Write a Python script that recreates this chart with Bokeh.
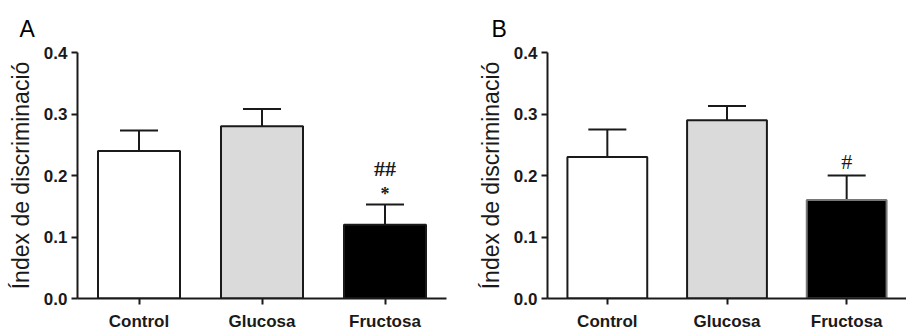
from bokeh.plotting import figure
from bokeh.models import ColumnDataSource, Whisker, FactorRange, Range1d
from bokeh.layouts import row
from bokeh.embed import file_html
from bokeh.resources import INLINE

categories = ["Control", "Glucosa", "Fructosa"]
colors = ["#ffffff", "#dadada", "#000000"]
y_ticks = [0.0, 0.1, 0.2, 0.3, 0.4]
y_label = "Índex de discriminació"

# Panel A
a_means = [0.24, 0.28, 0.12]
a_upper = [0.273, 0.308, 0.153]
a_marks = ["", "", "##"]
a_marks2 = ["", "", "*"]
a_mark_y = [0.0, 0.0, 0.211]
a_mark2_y = [0.0, 0.0, 0.170]

# Panel B
b_means = [0.23, 0.29, 0.16]
b_upper = [0.275, 0.313, 0.20]
b_marks = ["", "", "#"]
b_mark_y = [0.0, 0.0, 0.222]

FONT = "Liberation Sans"
DARK = "#1a1a1a"


def make_panel(letter, means, upper, width, left, right, outline, title_offset):
    p = figure(x_range=FactorRange(*categories, range_padding=0),
               y_range=Range1d(0, 0.4),
               width=width, height=334, output_backend="svg",
               toolbar_location=None, min_border_left=left,
               min_border_right=right, min_border_top=52,
               min_border_bottom=36)
    p.outline_line_color = None
    p.grid.visible = False
    p.background_fill_color = None
    p.border_fill_color = None
    src = ColumnDataSource(dict(x=categories, top=means, upper=upper,
                                base=means, color=colors, line=outline))
    p.vbar(x="x", top="top", width=0.667, fill_color="color",
           line_color="line", line_width=2, source=src)
    w = Whisker(base="x", upper="upper", lower="base", source=src,
                line_color=DARK, line_width=2, dimension="height")
    w.upper_head.size = 38
    w.upper_head.line_color = DARK
    w.upper_head.line_width = 2
    w.lower_head = None
    p.add_layout(w)

    p.yaxis.ticker = y_ticks
    p.yaxis.major_label_overrides = {t: f"{t:.1f}" for t in y_ticks}
    p.yaxis.axis_label = y_label
    p.yaxis.axis_label_text_font = FONT
    p.yaxis.axis_label_text_font_style = "normal"
    p.yaxis.axis_label_text_font_size = "23px"
    p.yaxis.axis_label_text_color = DARK
    p.yaxis.axis_label_standoff = 7
    for ax in (p.xaxis, p.yaxis):
        ax.axis_line_width = 2
        ax.axis_line_color = DARK
        ax.major_tick_line_width = 2
        ax.major_tick_line_color = DARK
        ax.major_tick_in = 0
        ax.major_tick_out = 6
        ax.minor_tick_line_color = None
        ax.major_label_text_font = FONT
        ax.major_label_text_font_style = "bold"
        ax.major_label_text_font_size = "17px"
        ax.major_label_text_color = DARK
    p.yaxis.major_label_standoff = 4
    p.xaxis.major_label_standoff = 7

    p.title.text = letter
    p.title.align = "left"
    p.title.offset = title_offset
    p.title.text_font = FONT
    p.title.text_font_style = "normal"
    p.title.text_font_size = "23px"
    p.title.text_color = "#000000"
    p.title.standoff = 22
    return p


pa = make_panel("A", a_means, a_upper, 453, 77, 7, [DARK, DARK, DARK], -58)
pa.text(x=categories, y=a_mark_y, text=a_marks, text_font=FONT,
        text_font_style="bold", text_font_size="22px", text_align="center",
        text_baseline="middle", text_color=DARK)
pa.text(x=categories, y=a_mark2_y, text=a_marks2, text_font=FONT,
        text_font_style="bold", text_font_size="18px", text_align="center",
        text_baseline="middle", text_color=DARK)

pb = make_panel("B", b_means, b_upper, 453, 94, 0, [DARK, DARK, "#777777"], -56)
pb.text(x=categories, y=b_mark_y, text=b_marks, text_font=FONT,
        text_font_size="22px", text_align="center",
        text_baseline="middle", text_color=DARK)

layout = row(pa, pb)
open("out.html", "w").write(file_html(layout, INLINE))
